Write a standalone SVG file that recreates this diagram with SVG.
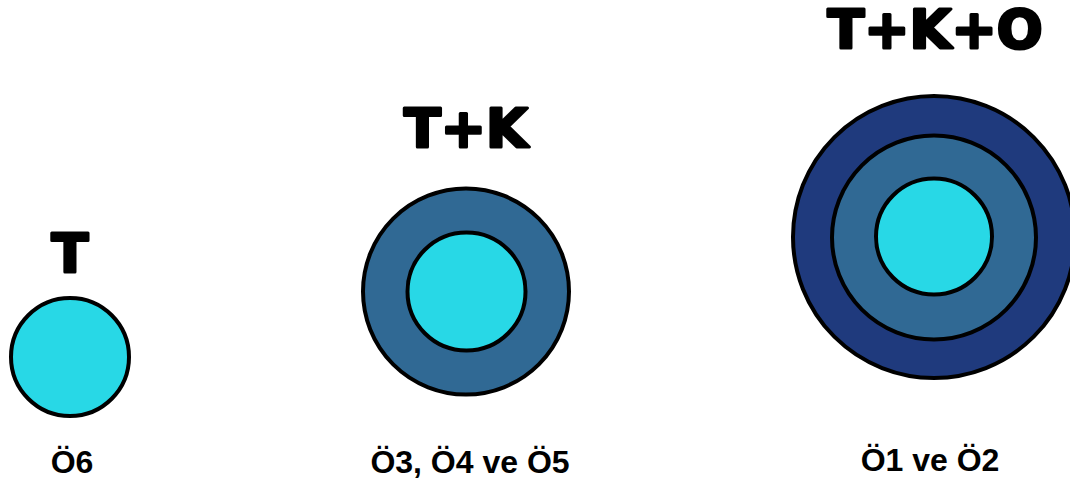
<svg xmlns="http://www.w3.org/2000/svg" width="1070" height="481" viewBox="0 0 1070 481">
<style>
.ring{stroke:#000;stroke-width:4}
.c1{fill:#28d8e6}
.c2{fill:#306994}
.c3{fill:#1f3a7d}
.title{font-family:"DejaVu Sans",sans-serif;font-weight:bold;font-size:54px;fill:#000;stroke:#000;stroke-width:3;stroke-linejoin:round;text-anchor:middle}
.lbl{font-family:"Liberation Sans",Arial,sans-serif;font-weight:bold;font-size:32px;fill:#000;text-anchor:middle}
</style>
<rect width="1070" height="481" fill="#fff"/>
<g id="node-T">
<text class="title" x="70" y="272">T</text>
<circle class="ring c1" cx="70" cy="357" r="59"/>
<text class="lbl" x="72" y="473">Ö6</text>
</g>
<g id="node-TK">
<text class="title" x="466" y="147">T+K</text>
<circle class="ring c2" cx="466" cy="291.5" r="103"/>
<circle class="ring c1" cx="466.5" cy="291.5" r="59"/>
<text class="lbl" x="470" y="473">Ö3, Ö4 ve Ö5</text>
</g>
<g id="node-TKO">
<text class="title" x="935" y="48">T+K+O</text>
<circle class="ring c3" cx="934" cy="237" r="141"/>
<circle class="ring c2" cx="934" cy="237.5" r="102"/>
<circle class="ring c1" cx="934" cy="236.5" r="58"/>
<text class="lbl" x="930" y="471">Ö1 ve Ö2</text>
</g>
<g id="connectors"/>
</svg>
